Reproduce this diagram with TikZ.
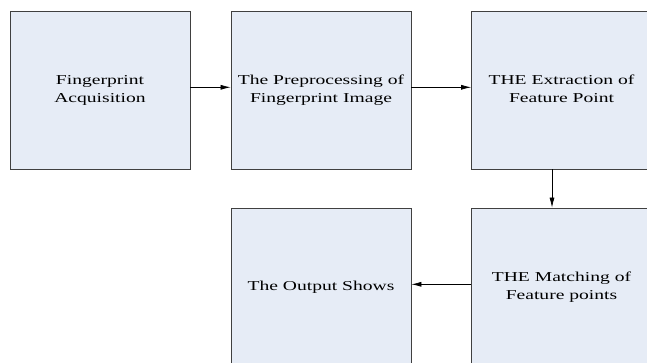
\documentclass[tikz,border=0pt]{standalone}
\usepackage{fontspec}
\setmainfont{Liberation Serif}
\usepackage{graphicx}
\usetikzlibrary{arrows.meta}
\definecolor{boxfill}{HTML}{E6ECF6}
\definecolor{boxline}{HTML}{404040}
\newcommand{\stxt}[1]{\scalebox{1.44}[1]{\begin{tabular}{@{}c@{}}#1\end{tabular}}}
\begin{document}
\begin{tikzpicture}[x=1pt,y=-1pt,
  procbox/.style={draw=boxline, fill=boxfill, line width=0.8pt,
    minimum width=180pt, minimum height=158pt, inner sep=0pt,
    font=\fontsize{13.6}{17.6}\selectfont},
  conn/.style={draw=black, line width=0.7pt, -{Latex[length=10pt,width=5pt]}}]
\useasboundingbox (0,0) rectangle (647,363);
\clip (0,0) rectangle (647,363);
\node[procbox] (b1) at (100,90) {\stxt{Fingerprint\\Acquisition}};
\node[procbox] (b2) at (321,90) {\stxt{The Preprocessing of\\Fingerprint Image}};
\node[procbox] (b3) at (561.5,90) {\stxt{THE Extraction of\\Feature Point}};
\node[procbox] (b4) at (321,287) {\stxt{The Output Shows}};
\node[procbox] (b5) at (561.5,287) {\stxt{THE Matching of\\Feature points}};
\draw[conn] ([yshift=2.7pt]b1.east) -- ([yshift=2.7pt]b2.west);
\draw[conn] ([yshift=2.7pt]b2.east) -- ([yshift=2.7pt]b3.west);
\draw[conn] ([xshift=-9.5pt]b3.south) -- ([xshift=-9.5pt]b5.north);
\draw[conn] ([yshift=2.7pt]b5.west) -- ([yshift=2.7pt]b4.east);
\end{tikzpicture}
\end{document}
